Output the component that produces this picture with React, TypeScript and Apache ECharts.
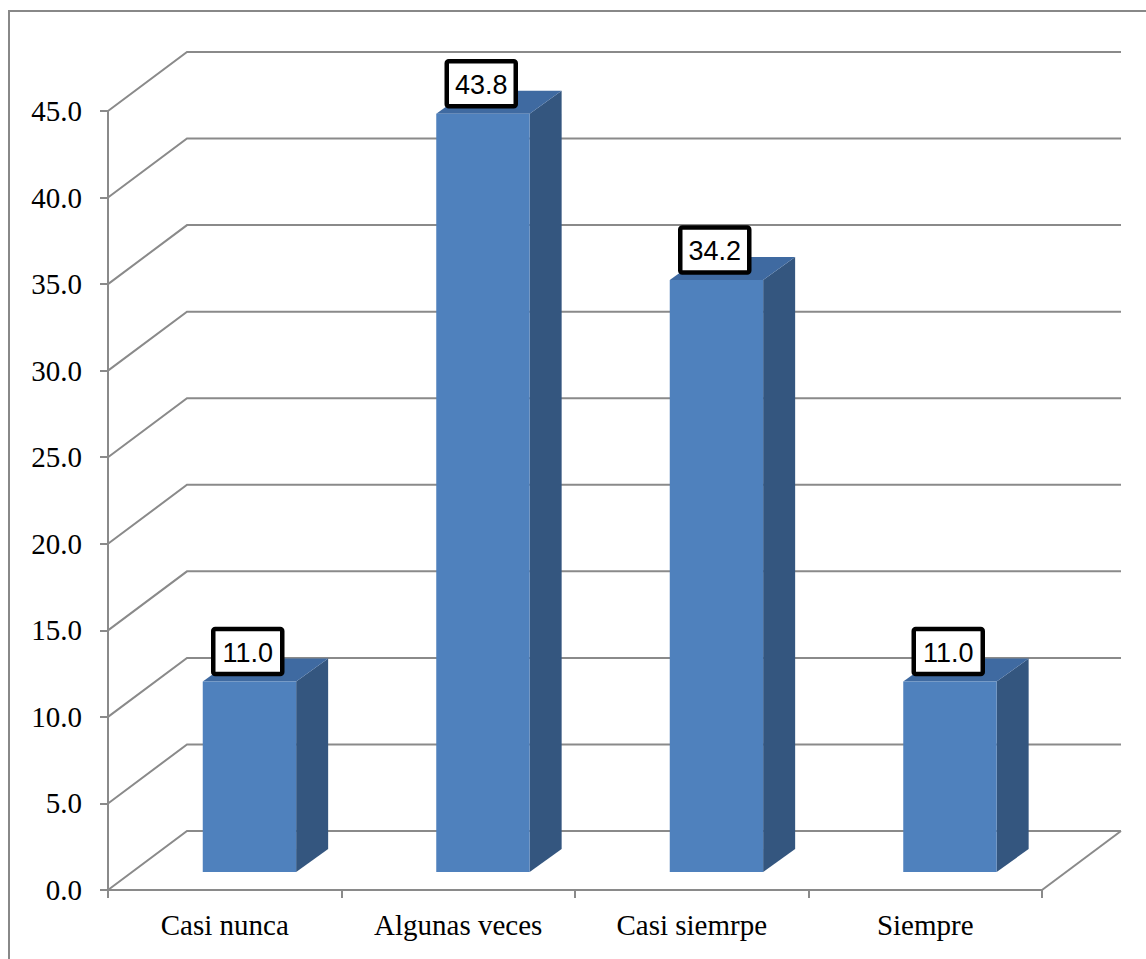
import React, { useEffect, useRef } from "react";
import * as echarts from "echarts";

const categories = ["Casi nunca", "Algunas veces", "Casi siemrpe", "Siempre"];
const values = [11.0, 43.8, 34.2, 11.0];
const yTickValues = [0, 5, 10, 15, 20, 25, 30, 35, 40, 45];

const DX = 79; // back wall depth offset x
const DY = 59; // back wall depth offset y
const OX = 24.7; // bar front face offset x
const OY = 18; // bar front face offset y
const LOX = 23; // label offset x
const SDX = 32; // bar depth x
const SDY = 23; // bar depth y
const GRID_COLOR = "#8a8a8a";
const SERIF = "Liberation Serif";

export default function App() {
  const ref = useRef<HTMLDivElement>(null);

  useEffect(() => {
    document.body.style.margin = "0";
    const chart = echarts.init(ref.current!, null, { renderer: "svg" });

    const option: any = {
      animation: false,
      backgroundColor: "#ffffff",
      textStyle: { fontFamily: SERIF },
      graphic: [
        {
          type: "rect",
          shape: { x: 9, y: 11, width: 1200, height: 1000 },
          style: { fill: "none", stroke: "#888888", lineWidth: 2 },
          silent: true,
        },
      ],
      grid: { left: 108, top: 111, width: 934, height: 779 },
      xAxis: {
        type: "category",
        data: categories,
        boundaryGap: true,
        axisLine: { show: true, lineStyle: { color: GRID_COLOR, width: 2 } },
        axisTick: { show: true, length: 8, lineStyle: { color: GRID_COLOR, width: 2 } },
        axisLabel: {
          margin: 20,
          color: "#000",
          fontSize: 29,
          fontFamily: SERIF,
        },
        splitLine: { show: false },
      },
      yAxis: {
        type: "value",
        min: 0,
        max: 45,
        interval: 5,
        axisLine: { show: true, lineStyle: { color: GRID_COLOR, width: 2 } },
        axisTick: { show: true, length: 8, lineStyle: { color: GRID_COLOR, width: 2 } },
        axisLabel: {
          margin: 26,
          color: "#000",
          fontSize: 29,
          fontFamily: SERIF,
          formatter: (v: number) => v.toFixed(1),
        },
        splitLine: { show: false },
      },
      series: [
        {
          type: "custom",
          z: 1,
          silent: true,
          clip: false,
          encode: { x: 0, y: 1 },
          data: yTickValues.map((v) => [0, v]),
          renderItem: (params: any, api: any) => {
            const cs = params.coordSys;
            const v = api.value(1);
            const p = api.coord([0, v]);
            const py = p[1];
            const left = cs.x;
            const right = cs.x + cs.width;
            const children: any[] = [
              {
                type: "polyline",
                shape: {
                  points: [
                    [left, py],
                    [left + DX, py - DY],
                    [right + DX, py - DY],
                  ],
                },
                style: { stroke: GRID_COLOR, lineWidth: 2, fill: "none" },
              },
            ];
            if (v === 0) {
              children.push({
                type: "line",
                shape: { x1: right, y1: py, x2: right + DX, y2: py - DY },
                style: { stroke: GRID_COLOR, lineWidth: 2 },
              });
            }
            return { type: "group", children };
          },
        },
        {
          type: "custom",
          z: 2,
          clip: false,
          encode: { x: 0, y: 1 },
          data: values.map((v, i) => [i, v]),
          renderItem: (params: any, api: any) => {
            const idx = api.value(0);
            const v = api.value(1);
            const c0 = api.coord([idx, 0]);
            const c1 = api.coord([idx, v]);
            const band = api.size([1, 0])[0];
            const w = band * 0.4;
            const cx = c0[0] + OX;
            const lx = c0[0] + LOX;
            const by = c0[1] - OY;
            const ty = c1[1] - OY;
            const x0 = cx - w / 2;
            const x1 = cx + w / 2;
            const boxW = 69;
            const boxH = 45;
            const boxBottom = ty - 7.5;
            return {
              type: "group",
              children: [
                {
                  type: "polygon",
                  shape: {
                    points: [
                      [x1, ty],
                      [x1 + SDX, ty - SDY],
                      [x1 + SDX, by - SDY],
                      [x1, by],
                    ],
                  },
                  style: { fill: "#34567f" },
                },
                {
                  type: "polygon",
                  shape: {
                    points: [
                      [x0, ty],
                      [x1, ty],
                      [x1 + SDX, ty - SDY],
                      [x0 + SDX, ty - SDY],
                    ],
                  },
                  style: { fill: "#3f6aa1" },
                },
                {
                  type: "rect",
                  shape: { x: x0, y: ty, width: w, height: by - ty },
                  style: { fill: "#4f81bd" },
                },
                {
                  type: "rect",
                  shape: { x: lx - boxW / 2, y: boxBottom - boxH, width: boxW, height: boxH, r: 2 },
                  style: { fill: "#ffffff", stroke: "#000000", lineWidth: 4.5 },
                },
                {
                  type: "text",
                  x: lx,
                  y: boxBottom - boxH / 2 + 1,
                  style: {
                    text: v.toFixed(1),
                    fill: "#000",
                    fontSize: 27,
                    fontFamily: "Liberation Sans",
                    align: "center",
                    verticalAlign: "middle",
                  },
                },
              ],
            };
          },
        },
      ],
    };

    chart.setOption(option);
    return () => chart.dispose();
  }, []);

  return <div ref={ref} style={{ width: 1146, height: 959 }} />;
}
